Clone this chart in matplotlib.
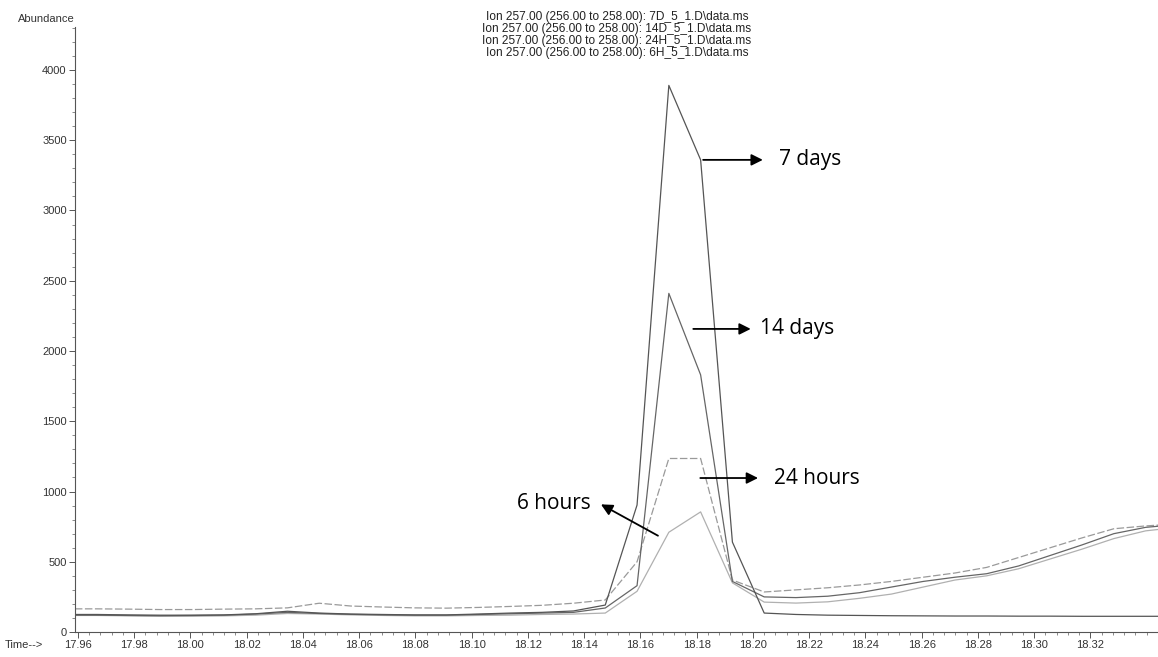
import matplotlib.pyplot as plt
import numpy as np

# scan times (min), shared by the four overlaid ion traces
time = [17.9554, 17.9667, 17.9780, 17.9893, 18.0006, 18.0119, 18.0232, 18.0345,
        18.0458, 18.0571, 18.0684, 18.0797, 18.0910, 18.1023, 18.1136, 18.1249,
        18.1362, 18.1475, 18.1588, 18.1701, 18.1814, 18.1927, 18.2040, 18.2153,
        18.2266, 18.2379, 18.2492, 18.2605, 18.2718, 18.2831, 18.2944, 18.3057,
        18.3170, 18.3283, 18.3396, 18.3509]

ab_7d = [125, 125, 122, 120, 120, 122, 130, 148, 135, 128, 125, 122, 122, 128, 135, 140,
         150, 192, 904, 3890, 3360, 640, 135, 125, 120, 118, 116, 115, 114, 114, 113, 113,
         112, 112, 112, 112]
ab_14d = [120, 120, 118, 116, 118, 120, 128, 140, 132, 126, 122, 120, 120, 125, 130, 135,
          140, 171, 330, 2410, 1830, 360, 250, 245, 255, 280, 320, 360, 390, 415, 470, 545,
          620, 700, 745, 765]
ab_24h = [165, 165, 163, 160, 160, 163, 165, 172, 205, 185, 178, 172, 170, 175, 182, 190,
          205, 228, 500, 1235, 1235, 370, 285, 300, 315, 335, 360, 390, 420, 460, 530, 600,
          670, 735, 755, 770]
ab_6h = [118, 118, 115, 112, 112, 115, 120, 132, 128, 122, 118, 115, 115, 118, 120, 125,
         128, 135, 290, 710, 855, 350, 213, 206, 215, 240, 270, 320, 370, 400, 450, 520,
         590, 665, 720, 745]

files = ['7D_5_1.D\\data.ms', '14D_5_1.D\\data.ms', '24H_5_1.D\\data.ms', '6H_5_1.D\\data.ms']
header = '\n'.join('Ion 257.00 (256.00 to 258.00): ' + f for f in files)

plt.rcParams['font.family'] = ['Liberation Sans', 'DejaVu Sans']

fig = plt.figure(figsize=(11.58, 6.57), dpi=100)
ax = fig.add_axes([0.0648, 0.038, 0.9352, 0.921])

ax.plot(time, ab_6h, color='#b0b0b0', lw=0.9)
ax.plot(time, ab_24h, color='#9a9a9a', lw=0.9, ls=(0, (6, 2)))
ax.plot(time, ab_14d, color='#666666', lw=0.9)
ax.plot(time, ab_7d, color='#555555', lw=0.9)

ax.set_xlim(17.959, 18.344)
ax.set_ylim(0, 4306)

for s in ['top', 'right']:
    ax.spines[s].set_visible(False)
for s in ['left', 'bottom']:
    ax.spines[s].set_color('#555555')
    ax.spines[s].set_linewidth(0.8)

major_t = np.round(np.arange(17.96, 18.33, 0.02), 2)
ax.set_xticks(major_t)
ax.set_xticks(np.arange(17.96, 18.344, 0.004), minor=True)
ax.set_xticklabels([f'{t:.2f}' for t in major_t])
ax.set_yticks(np.arange(0, 4001, 500))
ax.set_yticks(np.arange(0, 4301, 100), minor=True)
ax.tick_params(which='major', length=4, width=0.7, color='#555555',
               labelsize=8, labelcolor='#333333', pad=2)
ax.tick_params(which='minor', length=2, width=0.6, color='#777777')

fig.text(75 / 1158, 1 - 19 / 657, 'Abundance', ha='right', va='center',
         fontsize=8, color='#333333')
fig.text(5 / 1158, 1 - 645 / 657, 'Time-->', ha='left', va='center',
         fontsize=8, color='#333333')
fig.text(617 / 1158, 1 - 35 / 657, header, ha='center', va='center',
         fontsize=8.6, color='#222222', linespacing=1.0)

arrow = dict(arrowstyle='-|>', color='black', lw=1.3, mutation_scale=17)
lab = dict(fontsize=15, family='Open Sans', color='black', va='center')

ax.annotate('', xy=(18.2045, 3360), xytext=(18.1813, 3360), arrowprops=arrow)
ax.text(18.2091, 3360, '7 days', ha='left', **lab)

ax.annotate('', xy=(18.2002, 2157), xytext=(18.1778, 2157), arrowprops=arrow)
ax.text(18.2024, 2157, '14 days', ha='left', **lab)

ax.annotate('', xy=(18.2028, 1096), xytext=(18.1803, 1096), arrowprops=arrow)
ax.text(18.2074, 1096, '24 hours', ha='left', **lab)

ax.annotate('', xy=(18.1451, 918), xytext=(18.1671, 676), arrowprops=arrow)
ax.text(18.1422, 918, '6 hours', ha='right', **lab)

fig.savefig('out.png', dpi=100)
